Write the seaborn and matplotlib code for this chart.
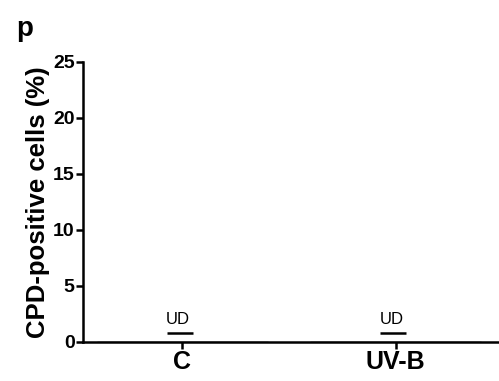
import matplotlib
matplotlib.use("Agg")
import matplotlib.pyplot as plt
import seaborn as sns
import pandas as pd

categories = ["C", "UV-B"]
values = [0.0, 0.0]
ud_level = [0.8, 0.8]
ud_text = ["UD", "UD"]
yticks = [0, 5, 10, 15, 20, 25]

sns.set_style("ticks")
plt.rcParams["font.family"] = ["Liberation Sans", "DejaVu Sans"]
plt.rcParams["text.color"] = "black"
plt.rcParams["axes.labelcolor"] = "black"
plt.rcParams["xtick.color"] = "black"
plt.rcParams["ytick.color"] = "black"
plt.rcParams["axes.edgecolor"] = "black"

fig = plt.figure(figsize=(4.99, 3.81), dpi=100)
ax = fig.add_axes([0.1663, 0.1024, 0.84, 0.735])

df = pd.DataFrame({"group": categories, "value": values})
sns.barplot(data=df, x="group", y="value", ax=ax, color="white", edgecolor="black")

for i, (lv, t) in enumerate(zip(ud_level, ud_text)):
    ax.hlines(lv, i - 0.075, i + 0.05, color="black", lw=1.8)
    ax.text(i - 0.02, lv + 0.5, t, ha="center", va="bottom", fontsize=12)

ax.set_xlim(-0.467, 1.5)
ax.set_ylim(0, 25)
ax.set_yticks(yticks)
ax.set_yticklabels([str(v) for v in yticks], fontsize=14, fontweight="bold")
ax.set_xticks(range(len(categories)))
ax.set_xticklabels(categories, fontsize=18, fontweight="bold")
ax.set_xlabel("")
ax.set_ylabel("CPD-positive cells (%)", fontsize=18.5, fontweight="bold", labelpad=2)
sns.despine(ax=ax)
for s in ["left", "bottom"]:
    ax.spines[s].set_linewidth(1.8)
ax.tick_params(axis="both", width=1.8, length=5, pad=1, color="black")
ax.tick_params(axis="x", pad=1)

fig.text(0.032, 0.905, "p", fontsize=20, fontweight="bold")

fig.savefig("out.png", dpi=100)
